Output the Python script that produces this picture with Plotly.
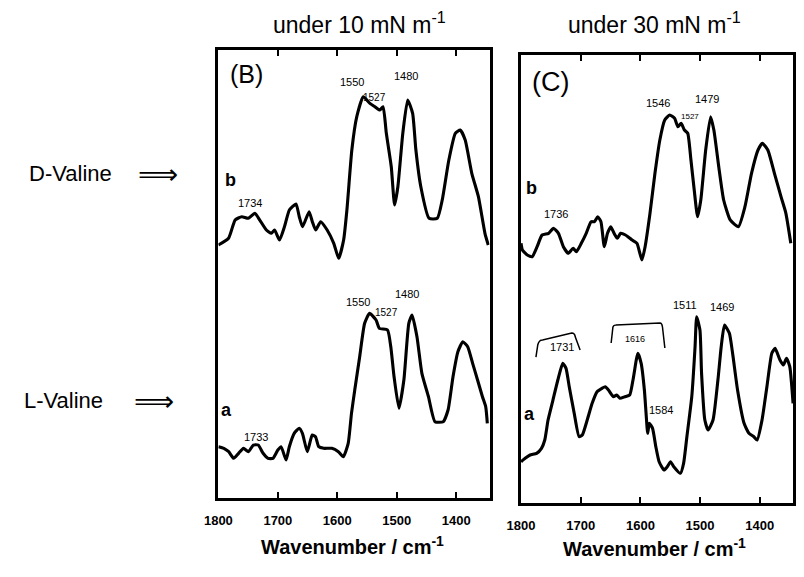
import plotly.graph_objects as go

# ---------------- data ----------------
# Panel (B): under 10 mN m-1
B_b_wn = [1800, 1782.9, 1771.8, 1760.7, 1749.7, 1738.7, 1730.4, 1719.3, 1711, 1705.5,
          1697.2, 1688.9, 1680.6, 1669.5, 1664, 1658.5, 1647.5, 1642, 1636.4, 1628.1,
          1617.1, 1606, 1597.7, 1589.4, 1583.9, 1575.6, 1567.3, 1556.3, 1545.2, 1536.9,
          1528.6, 1523.1, 1517.6, 1509.3, 1503.7, 1498.2, 1489.9, 1481.7, 1473.4, 1467.9,
          1459.6, 1445.7, 1431.9, 1423.6, 1412.5, 1401.6, 1393.3, 1385, 1373.9, 1362.8,
          1351.8, 1346.2]
B_b_int = [253, 259.7, 278, 281.3, 279.7, 284.7, 278, 268, 264.7, 268,
           258, 271.3, 288, 294, 281.3, 271.3, 286.3, 276.3, 268, 276.3,
           268, 254.7, 239.7, 258, 288, 348, 381.3, 401.3, 394.7, 391.3,
           388, 391.3, 364.7, 331.3, 293, 311.3, 364.7, 398, 384.7, 348,
           311.3, 279.7, 279.7, 298, 338, 364.7, 368, 358, 324.7, 301.3,
           264.7, 253]
B_a_wn = [1800, 1790.8, 1782.6, 1774.3, 1766, 1757.8, 1749.5, 1741.3, 1733, 1724.8,
          1716.5, 1708.3, 1700, 1694.5, 1686.2, 1680.7, 1672.5, 1664.2, 1658.7, 1650.5,
          1642.2, 1636.7, 1631.2, 1622.9, 1609.2, 1598.2, 1589.9, 1581.7, 1576.2, 1570.7,
          1562.4, 1554.1, 1545.9, 1534.9, 1529.4, 1515.6, 1510.1, 1504.6, 1496.4, 1488.1,
          1479.8, 1474.3, 1466.1, 1457.8, 1446.8, 1435.8, 1422, 1413.8, 1405.5, 1397.3,
          1389, 1380.8, 1372.5, 1364.2, 1356, 1350.5, 1347.8]
B_a_int = [51.3, 49.7, 46.3, 39.7, 44.7, 49.7, 46.3, 53, 53, 44.7,
           39.7, 39.7, 48, 51.3, 38, 51.3, 64.7, 69.7, 64.7, 46.3,
           63, 61.3, 51.3, 49.7, 49.7, 46.3, 41.3, 54.7, 84.7, 108,
           141.3, 174.7, 184.7, 178, 169.7, 168, 151.3, 121.3, 89.7, 118,
           174.7, 183, 161.3, 124.7, 101.3, 76.3, 76.3, 88, 121.3, 146.3,
           156.3, 151.3, 134.7, 118, 101.3, 91.3, 74.7]

# Panel (C): under 30 mN m-1
C_b_wn = [1800, 1797.7, 1789.5, 1781.3, 1773, 1764.8, 1753.8, 1745.6, 1737.3, 1729.1,
          1720.9, 1712.7, 1707.2, 1699, 1690.8, 1682.6, 1677, 1671.5, 1666.1, 1660.5,
          1655.1, 1649.7, 1644.1, 1638.6, 1633.2, 1625, 1614, 1605.7, 1597.5, 1592.1,
          1583.9, 1575.6, 1567.4, 1559.2, 1551, 1542.7, 1537.1, 1531.7, 1526.3, 1520.7,
          1515.3, 1509.8, 1504.2, 1498.8, 1490.6, 1482.4, 1476.9, 1468.7, 1460.5, 1449.5,
          1435.8, 1424.8, 1413.8, 1402.9, 1395.7, 1386.5, 1375.4, 1364.4, 1356.2, 1348]
C_b_int = [259.7, 253, 248, 246.3, 256.3, 268, 269.7, 274.7, 269.7, 256.3,
           249.7, 254.7, 251.3, 259.7, 269.7, 281.3, 281.3, 286.3, 281.3, 256.3,
           269.7, 276.3, 269.7, 264.7, 269.7, 268, 263, 259.7, 243, 256.3,
           289.7, 329.7, 363, 383, 388, 384.7, 376.3, 379.7, 373, 369.7,
           343, 313, 286.3, 303, 353, 386.3, 373, 336.3, 303, 283,
           276.3, 296.3, 329.7, 353, 359.7, 353, 329.7, 306.3, 289.7, 259.7]
C_a_wn = [1800, 1793.1, 1784.8, 1773.9, 1765.7, 1760.2, 1754.7, 1746.5, 1738.3, 1730.1,
          1724.6, 1719.2, 1710.9, 1702.7, 1697.3, 1689.1, 1680.8, 1672.6, 1664.4, 1658.9,
          1653.5, 1645.3, 1639.8, 1634.3, 1626.1, 1617.9, 1612.4, 1606.9, 1604.2, 1598.7,
          1593.3, 1590.5, 1587.8, 1585, 1579.6, 1574.1, 1568.6, 1560.4, 1554.9, 1549.5,
          1544, 1533, 1527.6, 1522.1, 1513.9, 1508.4, 1505.7, 1500.2, 1497.5, 1492,
          1486.5, 1478.3, 1470.1, 1464.6, 1459.1, 1450.9, 1445.5, 1437.2, 1426.3, 1418.1,
          1409.9, 1404.4, 1396.2, 1388, 1379.8, 1374.3, 1366.1, 1360.6, 1355.1, 1349.7,
          1344.2]
C_a_int = [41.3, 44.7, 48, 49.7, 54.7, 63, 83, 103, 123, 139.7,
           134.7, 116.3, 89.7, 66.3, 68, 83, 99.7, 111.3, 114.7, 116.3,
           113, 106.3, 108, 104.7, 106.3, 108, 123, 143, 149.7, 139.7,
           113, 89.7, 69.7, 79.7, 74.7, 56.3, 41.3, 33, 36.3, 41.3,
           36.3, 29.7, 39.7, 66.3, 106.3, 156.3, 186.3, 173, 129.7, 83,
           73, 83, 123, 156.3, 178, 169.7, 149.7, 113, 79.7, 69.7,
           66.3, 63, 83, 116.3, 149.7, 154.7, 143, 138, 144.7, 136.3,
           99.7]

tick_vals = [1800, 1700, 1600, 1500, 1400]
tick_text = ["1800", "1700", "1600", "1500", "1400"]

# peak labels: (text, wavenumber, intensity, size)
B_peaks = [("1734", 1747, 295, 11), ("1550", 1576, 416, 11), ("1527", 1538, 401, 10),
           ("1480", 1484, 422, 11), ("1733", 1737, 61, 11), ("1550", 1565, 196, 11),
           ("1527", 1517, 186, 10), ("1480", 1483, 204, 11)]
C_peaks = [("1736", 1741, 289, 11), ("1546", 1570, 400, 11), ("1527", 1517, 386, 8),
           ("1479", 1489, 404, 11), ("1731", 1731, 156, 11), ("1616", 1609, 164, 9),
           ("1584", 1565, 93, 11), ("1511", 1526, 198, 11), ("1469", 1463, 196, 11)]

# ---------------- figure ----------------
LINE = dict(color="black", width=3.1, shape="spline", smoothing=0.5)
fig = go.Figure()
for wn, it, xa, ya in [(B_b_wn, B_b_int, "x", "y"), (B_a_wn, B_a_int, "x", "y"),
                       (C_b_wn, C_b_int, "x2", "y2"), (C_a_wn, C_a_int, "x2", "y2")]:
    fig.add_trace(go.Scatter(x=wn, y=it, mode="lines", line=LINE, xaxis=xa, yaxis=ya,
                             showlegend=False, hoverinfo="skip"))

FONT = "Liberation Sans, Arial, sans-serif"
xcommon = dict(tickmode="array", tickvals=tick_vals, ticktext=tick_text,
               ticks="inside", ticklen=6, tickwidth=2, tickcolor="black",
               showline=True, linecolor="black", linewidth=2.6, mirror="ticks",
               showgrid=False, zeroline=False, ticklabelstandoff=9,
               tickfont=dict(family=FONT, size=13, color="black", weight="bold"))
ycommon = dict(showticklabels=False, ticks="", showline=True, linecolor="black",
               linewidth=2.6, mirror=True, showgrid=False, zeroline=False, range=[0, 448])

fig.update_layout(
    width=804, height=577, margin=dict(l=0, r=0, t=0, b=0),
    paper_bgcolor="white", plot_bgcolor="white",
    xaxis=dict(domain=[0.2587, 0.6020], range=[1800, 1344], anchor="y", **xcommon),
    yaxis=dict(domain=[0.1369, 0.9133], anchor="x", **ycommon),
    xaxis2=dict(domain=[0.6418, 0.9863], range=[1800, 1344], anchor="y2", **xcommon),
    yaxis2=dict(domain=[0.1282, 0.9047], anchor="x2", **ycommon),
)

ann = []
for txt, x, y, s in B_peaks:
    ann.append(dict(text=txt, x=x, y=y, xref="x", yref="y", showarrow=False,
                    font=dict(family=FONT, size=s, color="black")))
for txt, x, y, s in C_peaks:
    ann.append(dict(text=txt, x=x, y=y, xref="x2", yref="y2", showarrow=False,
                    font=dict(family=FONT, size=s, color="black")))

def P(text, px, py, size, weight="normal", family=FONT):
    return dict(text=text, x=px / 804, y=1 - py / 577, xref="paper", yref="paper",
                showarrow=False, xanchor="center", yanchor="middle",
                font=dict(family=family, size=size, color="black", weight=weight))

ann += [
    P("under 10 mN m<sup>-1</sup>", 352, 23, 23),
    P("under 30 mN m<sup>-1</sup>", 652, 23, 23),
    P("(B)", 237, 74, 25),
    P("(C)", 546, 82, 27),
    P("b", 220, 180, 18, "bold"),
    P("a", 216, 410, 18, "bold"),
    P("b", 527, 188, 18, "bold"),
    P("a", 525, 414, 18, "bold"),
    P("D-Valine", 57, 173, 22),
    P("L-Valine", 50, 400, 22),
    P("⟹", 147, 174, 28, family="DejaVu Sans"),
    P("⟹", 142, 401, 28, family="DejaVu Sans"),
    P("Wavenumber / cm<sup>-1</sup>", 345, 545, 20, "bold"),
    P("Wavenumber / cm<sup>-1</sup>", 652, 547, 20, "bold"),
]
fig.update_layout(annotations=ann)

# brackets around the 1731 and 1616 bands in trace (C)a
brackets = [
    "M 1775,146 L 1772,158 Q 1770,163 1764,163 L 1715,170 Q 1710,170 1709,166 L 1701,153",
    "M 1649,160 L 1646,176 Q 1645,178 1641,178 L 1567,180 Q 1564,180 1563,176 L 1559,155",
]
for p in brackets:
    fig.add_shape(type="path", path=p, xref="x2", yref="y2",
                  line=dict(color="black", width=1.5))

fig.write_html("out.html", config={"displayModeBar": False},
               post_script="document.body.style.margin='0';document.body.style.overflow='hidden';")
